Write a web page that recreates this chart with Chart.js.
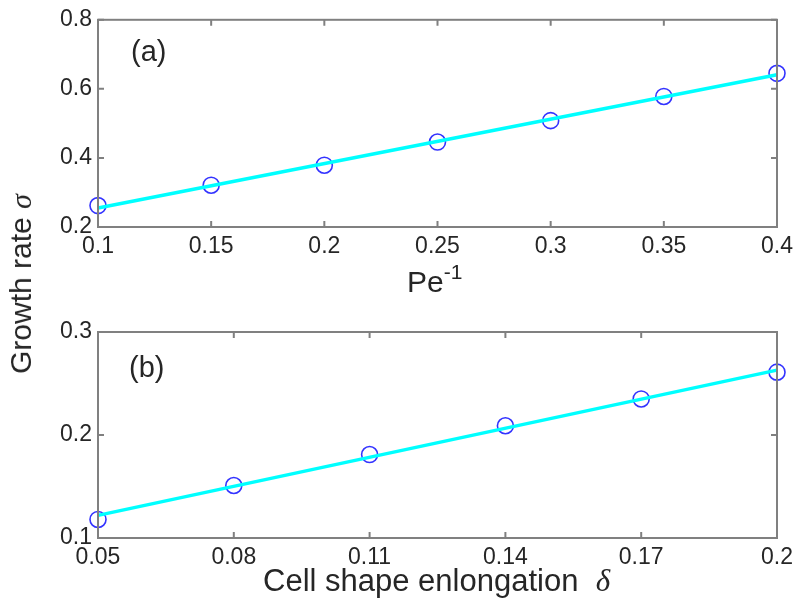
<!DOCTYPE html>
<html>
<head>
<meta charset="utf-8">
<script src="https://cdn.jsdelivr.net/npm/chart.js@4/dist/chart.umd.min.js"></script>
<style>
  html, body { margin: 0; padding: 0; background: #fff; }
  #wrap { position: relative; width: 800px; height: 608px; overflow: hidden;
          font-family: "Liberation Sans", Arial, sans-serif; color: #262626; }
  canvas { position: absolute; left: 0; }
  .lbl { position: absolute; font-size: 30px; line-height: 1; white-space: pre; }
  .ser { font-family: "Liberation Serif", "DejaVu Serif", serif; font-style: italic; }
</style>
</head>
<body>
<div id="wrap">
  <canvas id="chartA" width="800" height="300" style="top:0"></canvas>
  <canvas id="chartB" width="800" height="308" style="top:300px"></canvas>
  <div class="lbl" style="left:131px; top:37px; font-size:29px">(a)</div>
  <div class="lbl" style="left:129px; top:353px; font-size:29px">(b)</div>
  <div class="lbl" style="left:407px; top:267px">Pe<span style="font-size:21px; position:relative; top:-13px">-1</span></div>
  <div class="lbl" style="left:263px; top:565px; font-size:31px">Cell shape enlongation  <span class="ser">δ</span></div>
  <div class="lbl" style="left:21px; top:284px; transform: translate(-50%, -50%) rotate(-90deg);">Growth rate <span class="ser">σ</span></div>
</div>
<script>
// (a) 성장률 vs Pe^-1
const xA = [0.1, 0.15, 0.2, 0.25, 0.3, 0.35, 0.4];
const yA = [0.262, 0.321, 0.379, 0.446, 0.508, 0.578, 0.645];
const fitA = [0.255, 0.641];
const xTicksA = [0.1, 0.15, 0.2, 0.25, 0.3, 0.35, 0.4];
const xLabelsA = ['0.1', '0.15', '0.2', '0.25', '0.3', '0.35', '0.4'];
const yTicksA = [0.2, 0.4, 0.6, 0.8];
const yLabelsA = ['0.2', '0.4', '0.6', '0.8'];

// (b) 성장률 vs 세포 모양 연신율
const xB = [0.05, 0.08, 0.11, 0.14, 0.17, 0.2];
const yB = [0.118, 0.151, 0.181, 0.209, 0.235, 0.261];
const fitB = [0.122, 0.263];
const xTicksB = [0.05, 0.08, 0.11, 0.14, 0.17, 0.2];
const xLabelsB = ['0.05', '0.08', '0.11', '0.14', '0.17', '0.2'];
const yTicksB = [0.1, 0.2, 0.3];
const yLabelsB = ['0.1', '0.2', '0.3'];

const boxColor = '#808080';
const textColor = '#262626';
const tickFont = { family: '"Liberation Sans", Arial, sans-serif', size: 23 };

// 박스와 안쪽 눈금 그리기
const framePlugin = {
    id: 'frame',
    afterDatasetsDraw(chart) {
        const { ctx, chartArea: a, scales } = chart;
        const len = 6;
        ctx.save();
        ctx.strokeStyle = boxColor;
        ctx.lineWidth = 2;
        ctx.strokeRect(a.left, a.top, a.right - a.left, a.bottom - a.top);
        ctx.beginPath();
        scales.x.ticks.forEach(t => {
            const px = scales.x.getPixelForValue(t.value);
            ctx.moveTo(px, a.bottom); ctx.lineTo(px, a.bottom - len);
            ctx.moveTo(px, a.top); ctx.lineTo(px, a.top + len);
        });
        scales.y.ticks.forEach(t => {
            const py = scales.y.getPixelForValue(t.value);
            ctx.moveTo(a.left, py); ctx.lineTo(a.left + len, py);
            ctx.moveTo(a.right, py); ctx.lineTo(a.right - len, py);
        });
        ctx.stroke();
        ctx.restore();
    }
};

function makeChart(id, xs, ys, fit, xTicks, xLabels, yTicks, yLabels, padTop, xHeight) {
    return new Chart(document.getElementById(id), {
        type: 'scatter',
        data: {
            datasets: [{
                data: [{ x: xs[0], y: fit[0] }, { x: xs[xs.length - 1], y: fit[1] }],
                showLine: true,
                borderColor: '#00ffff',
                borderWidth: 3.5,
                pointRadius: 0,
                clip: false
            }, {
                data: xs.map((x, i) => ({ x: x, y: ys[i] })),
                showLine: false,
                pointStyle: 'circle',
                pointRadius: 8,
                pointBorderWidth: 1.6,
                pointBorderColor: '#3333ff',
                pointBackgroundColor: 'rgba(0,0,0,0)',
                clip: false
            }]
        },
        options: {
            responsive: false,
            animation: false,
            devicePixelRatio: 1,
            layout: { padding: { top: padTop, right: 23, left: 0, bottom: 0 } },
            plugins: { legend: { display: false }, tooltip: { enabled: false } },
            scales: {
                x: {
                    type: 'linear',
                    min: xTicks[0],
                    max: xTicks[xTicks.length - 1],
                    grid: { display: false, drawTicks: false },
                    border: { display: false },
                    afterBuildTicks: s => { s.ticks = xTicks.map(v => ({ value: v })); },
                    afterFit: s => { s.height = xHeight; },
                    ticks: {
                        autoSkip: false, maxRotation: 0, padding: 6,
                        color: textColor, font: tickFont,
                        callback: (v, i) => xLabels[i]
                    }
                },
                y: {
                    type: 'linear',
                    min: yTicks[0],
                    max: yTicks[yTicks.length - 1],
                    grid: { display: false, drawTicks: false },
                    border: { display: false },
                    afterBuildTicks: s => { s.ticks = yTicks.map(v => ({ value: v })); },
                    afterFit: s => { s.width = 98; },
                    ticks: {
                        autoSkip: false, padding: 6,
                        color: textColor, font: tickFont,
                        callback: (v, i) => yLabels[i]
                    }
                }
            }
        },
        plugins: [framePlugin]
    });
}

makeChart('chartA', xA, yA, fitA, xTicksA, xLabelsA, yTicksA, yLabelsA, 18, 73);
makeChart('chartB', xB, yB, fitB, xTicksB, xLabelsB, yTicksB, yLabelsB, 32, 70);
</script>
</body>
</html>
